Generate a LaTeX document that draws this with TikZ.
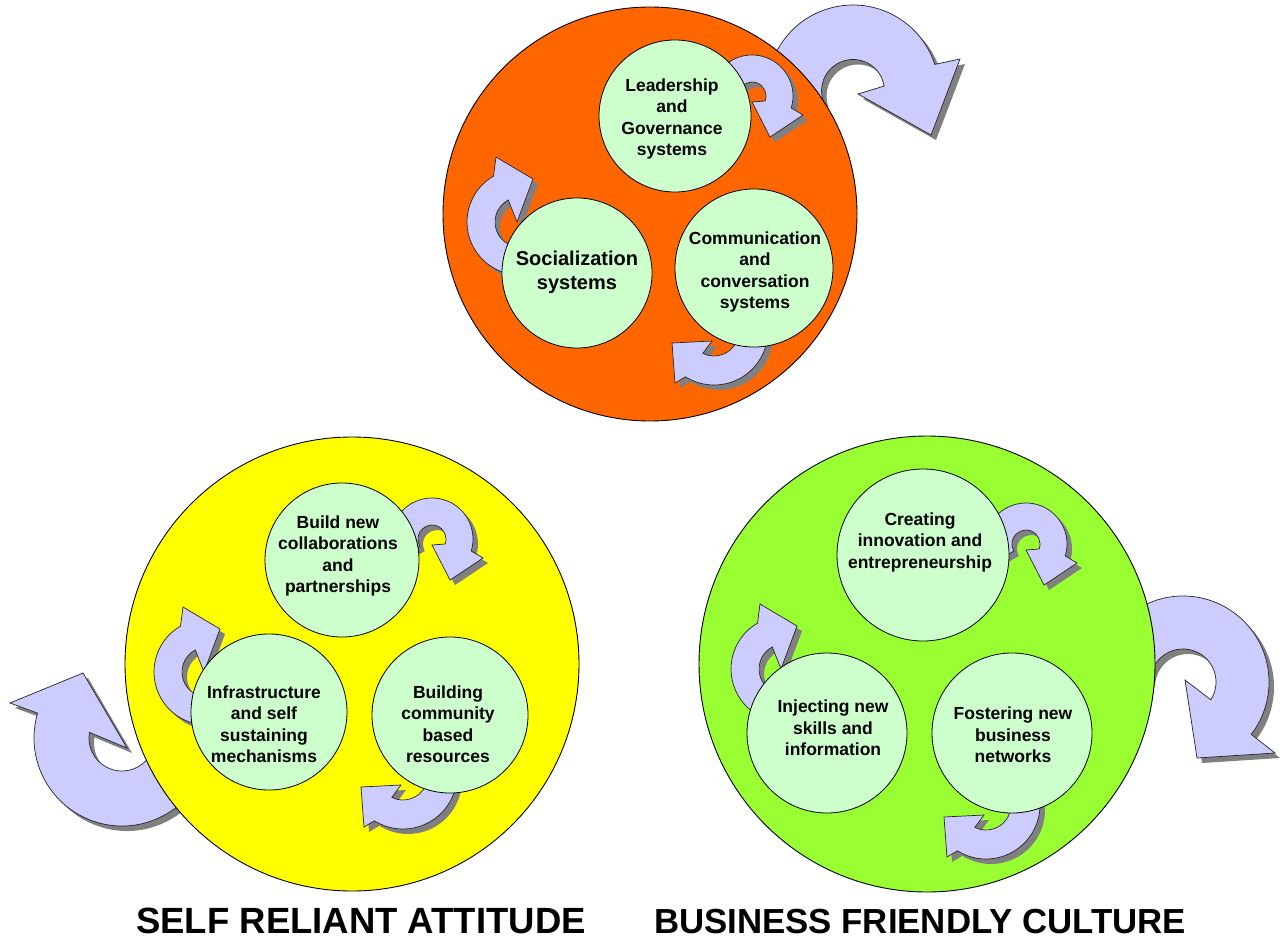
\documentclass[tikz,border=0pt]{standalone}
\usepackage{fontspec}
\setmainfont{Liberation Sans}
\definecolor{orng}{HTML}{FF6600}
\definecolor{yel}{HTML}{FFFF00}
\definecolor{lime}{HTML}{99FF33}
\definecolor{mint}{HTML}{CCFFCC}
\definecolor{lav}{HTML}{CCCCFF}
\definecolor{shad}{HTML}{808080}
\tikzset{
 bigcirc/.style={circle, draw=black, line width=0.9pt, inner sep=0pt},
 smallcirc/.style={circle, draw=black, line width=0.8pt, fill=mint, inner sep=0pt},
 lbl/.style={align=center, font=\fontsize{17.5}{21.5}\selectfont\bfseries, inner sep=0pt},
 lblbig/.style={align=center, font=\fontsize{20}{24}\selectfont\bfseries, inner sep=0pt},
 arrowbody/.style={fill=lav, draw=black!85, line width=0.7pt, line join=miter},
 arrowshadow/.style={fill=shad},
 title/.style={inner sep=0pt, anchor=base}
}
% #1 centre, #2 outer radius, #3 inner radius, #4 start angle, #5 outer end angle,
% #6 inner end angle, #7 outer barb, #8 tip, #9 inner barb
\newcommand{\cArrow}[9]{%
 \fill[arrowshadow, shift={(5,5)}] ([shift={(#1)}]#4:#2) arc[start angle=#4, end angle=#5, radius=#2] -- (#7) -- (#8) -- (#9) -- ([shift={(#1)}]#6:#3) arc[start angle=#6, end angle=#4, radius=#3] -- cycle;
 \draw[arrowbody] ([shift={(#1)}]#4:#2) arc[start angle=#4, end angle=#5, radius=#2] -- (#7) -- (#8) -- (#9) -- ([shift={(#1)}]#6:#3) arc[start angle=#6, end angle=#4, radius=#3] -- cycle;
}
\begin{document}
\begin{tikzpicture}[x=1pt,y=-1pt]
\useasboundingbox (0,0) rectangle (1281,939);
\fill[white] (0,0) rectangle (1281,939);
% big arrows
\cArrow{853,91}{86}{31.5}{160}{342}{351}{960,59}{931,135}{858,94}
\cArrow{122,738}{88}{33}{20}{196.4}{189.8}{10,703}{83,673}{127,748}
\cArrow{1183,682}{86}{33}{180}{397.5}{392.6}{1275,753}{1197,758}{1185,680}
% big circles
\node[bigcirc, fill=orng, minimum size=414] (top) at (650,214) {};
\node[bigcirc, fill=yel, minimum size=454] (left) at (352,664) {};
\node[bigcirc, fill=lime, minimum size=456] (right) at (927,664) {};
% small arrows
\cArrow{752,96}{41}{14}{150}{377}{381}{803,115}{770,137}{752,102}
\cArrow{432,539}{41}{14}{150}{377}{381}{483,558}{450,580}{432,545}
\cArrow{1026,544}{41}{14}{150}{377}{381}{1077,563}{1044,585}{1026,550}
\cArrow{520,222}{53}{25}{60}{240}{242}{496,157}{533,179}{517,222}
\cArrow{207,672}{53}{25}{60}{240}{242}{183,607}{220,629}{204,672}
\cArrow{784,669}{53}{25}{60}{240}{242}{760,604}{797,626}{781,669}
\cArrow{714,331}{54}{25}{-20}{122}{116.6}{675,383}{672,343}{712,341}
\cArrow{986,805}{54}{25}{-20}{122}{116.6}{947,857}{944,817}{984,815}
\cArrow{403,775}{54}{25}{-20}{122}{116.6}{364,827}{361,787}{401,785}
% small circles
\node[smallcirc, minimum size=152] (lead) at (675,116) {};
\node[smallcirc, minimum size=150] (soc) at (577,273) {};
\node[smallcirc, minimum size=158] (comm) at (754,268) {};
\node[smallcirc, minimum size=154] (build) at (342,560) {};
\node[smallcirc, minimum size=156] (infra) at (269,712) {};
\node[smallcirc, minimum size=156] (bcomm) at (450,715) {};
\node[smallcirc, minimum size=172] (create) at (923,555) {};
\node[smallcirc, minimum size=160] (inject) at (827,733) {};
\node[smallcirc, minimum size=160] (foster) at (1012,733) {};
% labels
\node[lbl] (leadt) at (672,119) {Leadership\\and\\Governance\\systems};
\node[lblbig] (soct) at (577,272) {Socialization\\systems};
\node[lbl] (commt) at (755,272) {Communication\\and\\conversation\\systems};
\node[lbl] (buildt) at (338,556) {Build new\\collaborations\\and\\partnerships};
\node[lbl] (infrat) at (264,724) {Infrastructure\\and self\\sustaining\\mechanisms};
\node[lbl] (bcommt) at (448,724) {Building\\community\\based\\resources};
\node[lbl] (createt) at (920,542) {Creating\\innovation and\\entrepreneurship};
\node[lbl] (injectt) at (833,728) {Injecting new\\skills and\\information};
\node[lbl] (fostert) at (1013,735) {Fostering new\\business\\networks};
\node[title, font=\fontsize{36.5}{40}\selectfont\bfseries] (t1) at (361,933) {SELF RELIANT ATTITUDE};
\node[title, font=\fontsize{34.8}{40}\selectfont\bfseries] (t2) at (920,933) {BUSINESS FRIENDLY CULTURE};
\end{tikzpicture}
\end{document}
